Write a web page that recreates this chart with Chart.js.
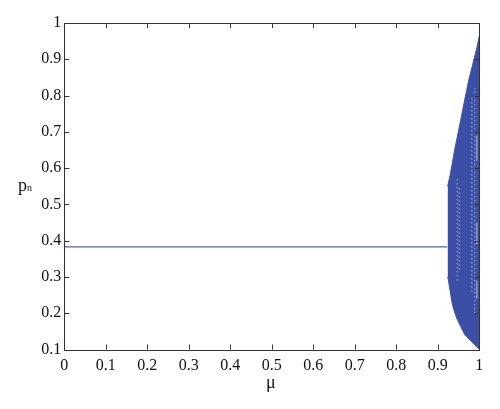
<!DOCTYPE html>
<html><head><meta charset="utf-8">
<script src="https://cdn.jsdelivr.net/npm/chart.js@4/dist/chart.umd.min.js"></script>
<style>
html,body{margin:0;padding:0;background:#fff;}
#wrap{position:relative;width:500px;height:409px;}
.lab{position:absolute;font-family:"Liberation Serif","DejaVu Serif",serif;color:#111;}
</style></head>
<body>
<div id="wrap">
<canvas id="c" width="500" height="409"></canvas>
<div class="lab" style="left:18px;top:175px;font-size:18px;">p<span style="font-size:10px;">n</span></div>
<div class="lab" style="left:266px;top:372px;font-size:18px;">μ</div>
</div>
<script>
const xTicks = [0,0.1,0.2,0.3,0.4,0.5,0.6,0.7,0.8,0.9,1];
const yTicks = [0.1,0.2,0.3,0.4,0.5,0.6,0.7,0.8,0.9,1];
const fixedMu = [0, 0.923];
const fixedP = [0.383, 0.383];
const chaosMu    = [0.9235,0.925,0.93,0.935,0.94,0.945,0.95,0.955,0.96,0.965,0.97,0.975,0.98,0.985,0.99,0.995,1.0];
const chaosUpper = [0.55,0.556,0.582,0.614,0.646,0.675,0.703,0.731,0.760,0.789,0.817,0.845,0.867,0.890,0.913,0.936,0.965];
const chaosLower = [0.30,0.295,0.26,0.225,0.205,0.188,0.176,0.164,0.152,0.141,0.135,0.129,0.123,0.118,0.112,0.106,0.100];
// light speckle columns inside the chaotic band
const speckMu  = [0.947, 0.952, 0.982, 0.989];
const speckTop = [0.57, 0.55, 0.80, 0.82];
const speckBot = [0.29, 0.32, 0.26, 0.20];
const stripMu  = 0.994;
const stripTop = [0.69, 0.45, 0.29];
const stripBot = [0.62, 0.39, 0.24];

const blue = '#3c4fa6';
const toPts = (xs, ys) => xs.map((x,i)=>({x:x,y:ys[i]}));

const frame = {
  id:'frame',
  afterDraw(chart){
    const {ctx, chartArea:a, scales:{x,y}} = chart;
    ctx.save();
    ctx.strokeStyle = '#333';
    ctx.lineWidth = 1;
    ctx.strokeRect(Math.round(a.left)+0.5, Math.round(a.top)+0.5, Math.round(a.right-a.left), Math.round(a.bottom-a.top));
    const L = 5;
    ctx.beginPath();
    xTicks.forEach(v=>{
      const px = Math.round(x.getPixelForValue(v))+0.5;
      ctx.moveTo(px, a.bottom); ctx.lineTo(px, a.bottom-L);
      ctx.moveTo(px, a.top); ctx.lineTo(px, a.top+L);
    });
    yTicks.forEach(v=>{
      const py = Math.round(y.getPixelForValue(v))+0.5;
      ctx.moveTo(a.left, py); ctx.lineTo(a.left+L, py);
      ctx.moveTo(a.right, py); ctx.lineTo(a.right-L, py);
    });
    ctx.stroke();
    ctx.restore();
  }
};

const font = {family:'"Liberation Serif","DejaVu Serif",serif', size:16};

const datasets = [
  {data:toPts(chaosMu, chaosUpper), borderColor:blue, backgroundColor:blue, borderWidth:1, pointRadius:0, fill:'+1', tension:0, order:5},
  {data:toPts(chaosMu, chaosLower), borderColor:blue, backgroundColor:blue, borderWidth:1, pointRadius:0, fill:false, tension:0, order:6},
  {data:toPts(fixedMu, fixedP), borderColor:'#4d61b6', borderWidth:1.3, pointRadius:0, fill:false, order:4}
];
speckMu.forEach((m,i)=>datasets.push({data:[{x:m,y:speckBot[i]},{x:m,y:speckTop[i]}],
  borderColor:'rgba(215,220,245,0.6)', borderWidth:1.2, borderDash:[1.5,2.5], pointRadius:0, fill:false, order:1}));
stripTop.forEach((t,i)=>datasets.push({data:[{x:stripMu,y:stripBot[i]},{x:stripMu,y:t}],
  borderColor:'rgba(205,210,240,0.7)', borderWidth:1.2, pointRadius:0, fill:false, order:1}));

new Chart(document.getElementById('c'), {
  type:'line',
  data:{datasets:datasets},
  options:{
    responsive:false, animation:false,
    layout:{padding:{left:0,right:20.7,top:23,bottom:0}},
    plugins:{legend:{display:false}, tooltip:{enabled:false}, filler:{drawTime:'beforeDatasetsDraw'}},
    scales:{
      x:{type:'linear', min:0, max:1,
        afterBuildTicks(s){ s.ticks = xTicks.map(v=>({value:v})); },
        afterFit(s){ s.height = 59.5; },
        grid:{display:false, drawTicks:false, tickLength:0}, border:{display:false},
        ticks:{font:font, color:'#111', padding:7, maxRotation:0, autoSkip:false,
          callback:v=>String(Math.round(v*10)/10)}},
      y:{type:'linear', min:0.1, max:1,
        afterBuildTicks(s){ s.ticks = yTicks.map(v=>({value:v})); },
        afterFit(s){ s.width = 64.3; },
        grid:{display:false, drawTicks:false, tickLength:0}, border:{display:false},
        ticks:{font:font, color:'#111', padding:3, autoSkip:false,
          callback:v=>String(Math.round(v*10)/10)}}
    }
  },
  plugins:[frame]
});
</script>
</body></html>
